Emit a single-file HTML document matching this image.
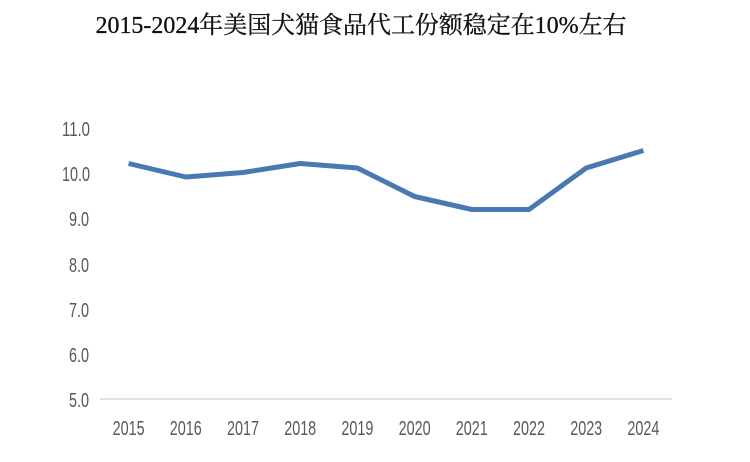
<!DOCTYPE html>
<html><head><meta charset="utf-8"><style>
html,body{margin:0;padding:0;background:#fff;}
svg{display:block;}
</style></head><body>
<svg width="750" height="462" viewBox="0 0 750 462" xmlns="http://www.w3.org/2000/svg">
<rect width="750" height="462" fill="#fff"/>
<text x="361" y="33" text-anchor="middle" font-family="'Liberation Serif','Noto Serif CJK SC',serif" font-size="24" fill="#111" stroke="#111" stroke-width="0.3" textLength="531" lengthAdjust="spacingAndGlyphs">2015-2024年美国犬猫食品代工份额稳定在10%左右</text>
<line x1="100" y1="399" x2="672" y2="399" stroke="#d9d9d9" stroke-width="1.5"/>
<g font-family="'Liberation Sans',sans-serif" font-size="20" fill="#595959" text-anchor="end">
<text x="90" y="136" textLength="28" lengthAdjust="spacingAndGlyphs">11.0</text>
<text x="90" y="181" textLength="28" lengthAdjust="spacingAndGlyphs">10.0</text>
<text x="89" y="226" textLength="20" lengthAdjust="spacingAndGlyphs">9.0</text>
<text x="89" y="272" textLength="20" lengthAdjust="spacingAndGlyphs">8.0</text>
<text x="89" y="317" textLength="20" lengthAdjust="spacingAndGlyphs">7.0</text>
<text x="89" y="362" textLength="20" lengthAdjust="spacingAndGlyphs">6.0</text>
<text x="89" y="407" textLength="20" lengthAdjust="spacingAndGlyphs">5.0</text>
</g>
<g font-family="'Liberation Sans',sans-serif" font-size="20" fill="#595959" text-anchor="middle">
<text x="128.6" y="435" textLength="32" lengthAdjust="spacingAndGlyphs">2015</text>
<text x="185.8" y="435" textLength="32" lengthAdjust="spacingAndGlyphs">2016</text>
<text x="243" y="435" textLength="32" lengthAdjust="spacingAndGlyphs">2017</text>
<text x="300.2" y="435" textLength="32" lengthAdjust="spacingAndGlyphs">2018</text>
<text x="357.4" y="435" textLength="32" lengthAdjust="spacingAndGlyphs">2019</text>
<text x="414.6" y="435" textLength="32" lengthAdjust="spacingAndGlyphs">2020</text>
<text x="471.8" y="435" textLength="32" lengthAdjust="spacingAndGlyphs">2021</text>
<text x="529" y="435" textLength="32" lengthAdjust="spacingAndGlyphs">2022</text>
<text x="586.2" y="435" textLength="32" lengthAdjust="spacingAndGlyphs">2023</text>
<text x="643.4" y="435" textLength="32" lengthAdjust="spacingAndGlyphs">2024</text>
</g>
<polyline fill="none" stroke="#4a78b3" stroke-width="5" stroke-linejoin="round" stroke-linecap="butt"
points="128.6,163.5 185.8,177 243,172.5 300.2,163.5 357.4,168 414.6,196.5 471.8,209.5 529,209.5 586.2,168 643.4,150.5"/>
</svg>
</body></html>
